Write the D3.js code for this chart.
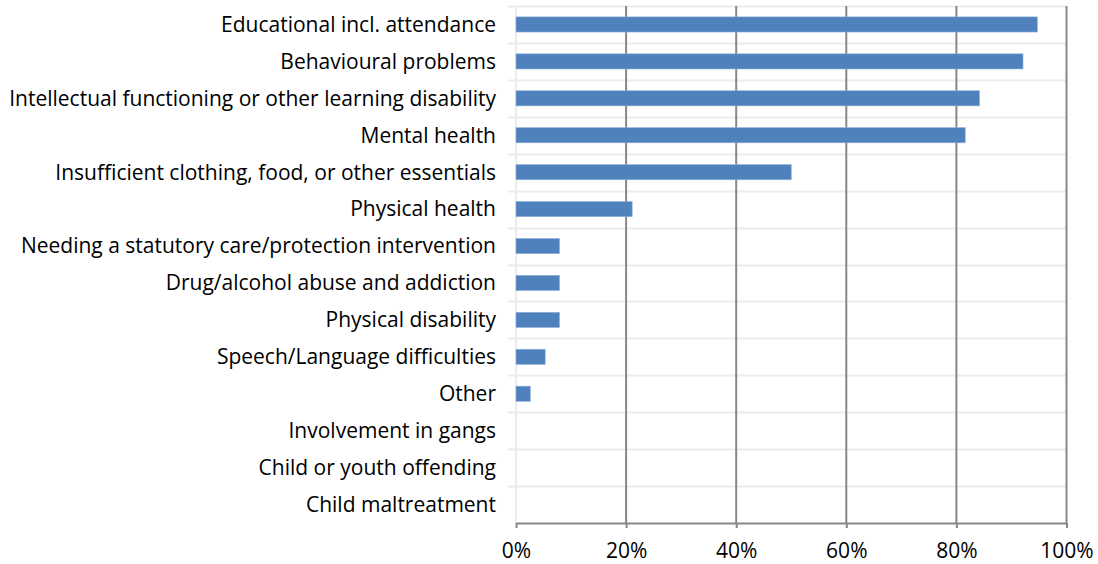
<!DOCTYPE html>
<html>
<head>
<meta charset="utf-8">
<script src="https://cdn.jsdelivr.net/npm/d3@7"></script>
<style>
  html, body { margin: 0; padding: 0; background: #fff; }
  svg { display: block; }
  text { font-family: "Open Sans", Lato, sans-serif; fill: #000; }
</style>
</head>
<body>
<svg id="chart" width="1098" height="564"></svg>
<script>
// Categories, top to bottom
const categories = [
  "Educational incl. attendance",
  "Behavioural problems",
  "Intellectual functioning or other learning disability",
  "Mental health",
  "Insufficient clothing, food, or other essentials",
  "Physical health",
  "Needing a statutory care/protection intervention",
  "Drug/alcohol abuse and addiction",
  "Physical disability",
  "Speech/Language difficulties",
  "Other",
  "Involvement in gangs",
  "Child or youth offending",
  "Child maltreatment"
];

// Share of respondents (%)
const values = [94.7, 92.1, 84.2, 81.6, 50.0, 21.1, 7.9, 7.9, 7.9, 5.3, 2.6, 0, 0, 0];

// Axis tick values and labels
const xTicks = [0, 20, 40, 60, 80, 100];
const xTickLabels = ["0%", "20%", "40%", "60%", "80%", "100%"];

(function draw() {
  const svg = d3.select("#chart");
  const plotLeft = 516, plotRight = 1066.5, plotTop = 6, plotBottom = 523;
  const fontSize = "21px";

  const x = d3.scaleLinear().domain([0, 100]).range([plotLeft, plotRight]);
  const y = d3.scaleBand().domain(categories).range([plotTop, plotBottom]).paddingInner(0.59).paddingOuter(0.295);
  const yb = d3.scaleBand().domain(categories).range([plotTop, plotBottom]).padding(0);

  // Horizontal separators between categories (with short left ticks)
  svg.append("g").selectAll("line").data(categories).join("line")
    .attr("x1", plotLeft - 8).attr("x2", plotRight)
    .attr("y1", d => Math.round(yb(d)) + 0.5).attr("y2", d => Math.round(yb(d)) + 0.5)
    .attr("stroke", "#ececec").attr("stroke-width", 2);

  // Light category axis line
  svg.append("line")
    .attr("x1", plotLeft).attr("x2", plotLeft).attr("y1", plotTop).attr("y2", plotBottom)
    .attr("stroke", "#ececec").attr("stroke-width", 2);

  // Vertical value gridlines
  svg.append("g").selectAll("line").data(xTicks.slice(1)).join("line")
    .attr("x1", d => x(d)).attr("x2", d => x(d))
    .attr("y1", plotTop).attr("y2", plotBottom)
    .attr("stroke", "#878787").attr("stroke-width", 2);

  // Bars
  svg.append("g").selectAll("rect").data(values).join("rect")
    .attr("x", x(0))
    .attr("y", (d, i) => y(categories[i]))
    .attr("width", d => x(d) - x(0))
    .attr("height", y.bandwidth())
    .attr("fill", "#4f81bd")
    .attr("stroke", d => d > 0 ? "#8fb0db" : "none")
    .attr("stroke-width", 0.6);

  // Bottom value axis
  const xAxis = d3.axisBottom(x).tickValues(xTicks)
    .tickFormat((d, i) => xTickLabels[i]).tickSize(5).tickSizeOuter(0).tickPadding(15);
  const gx = svg.append("g").attr("transform", `translate(0,${plotBottom})`).call(xAxis);
  gx.select(".domain").attr("stroke", "#878787").attr("stroke-width", 2);
  gx.selectAll(".tick line").attr("stroke", "#878787").attr("stroke-width", 2);
  gx.selectAll(".tick text").style("font-size", fontSize).style("font-family", "'Open Sans', Lato, sans-serif").attr("fill", "#000");

  // Category labels
  svg.append("g").selectAll("text").data(categories).join("text")
    .attr("x", plotLeft - 20)
    .attr("y", d => yb(d) + yb.bandwidth() / 2)
    .attr("dy", "0.35em")
    .attr("text-anchor", "end")
    .style("font-size", fontSize)
    .text(d => d);
})();
</script>
</body>
</html>
